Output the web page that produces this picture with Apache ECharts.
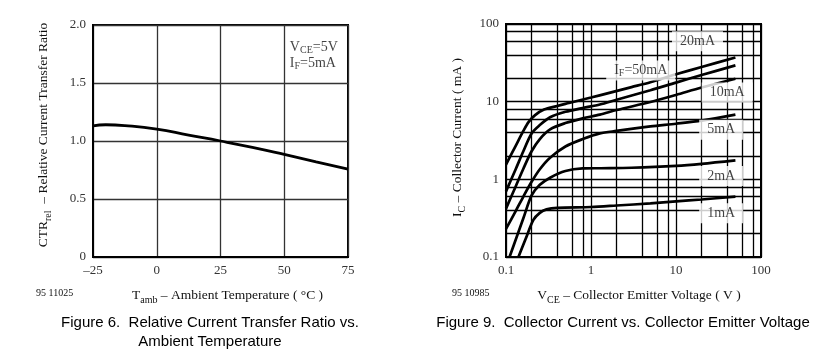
<!DOCTYPE html>
<html>
<head>
<meta charset="utf-8">
<script src="https://cdn.jsdelivr.net/npm/echarts@6/dist/echarts.min.js"></script>
<style>
html, body { margin: 0; padding: 0; background: #fff; }
#container { width: 835px; height: 353px; }
</style>
</head>
<body>
<div id="container"></div>
<script>
// Figure 6: relative CTR vs ambient temperature
var tempC = [-25, -20, -12.5, 0, 12.5, 25, 37.5, 50, 62.5, 75];
var ctrRel = [1.131, 1.14, 1.133, 1.103, 1.051, 1.0, 0.945, 0.884, 0.82, 0.757];

// Figure 9: collector current (mA) vs collector emitter voltage (V), one list per IF
var ic50mA = [[0.1, 1.55], [0.13, 2.7], [0.16, 4.2], [0.185, 5.5], [0.22, 6.7], [0.28, 7.9], [0.4, 8.8], [0.55, 9.6], [1, 11.3], [1.6, 12.9], [3, 15.4], [5, 17.8], [10, 22.5], [20, 28], [50, 37]];
var ic20mA = [[0.1, 0.7], [0.13, 1.35], [0.16, 2.3], [0.2, 3.9], [0.25, 5.0], [0.33, 6.3], [0.5, 7.4], [0.8, 8.3], [1.27, 9.2], [2, 10.6], [5, 14], [10, 17.6], [20, 22], [50, 29.3]];
var ic10mA = [[0.1, 0.42], [0.13, 0.81], [0.16, 1.37], [0.2, 2.3], [0.25, 3.3], [0.33, 4.4], [0.5, 5.3], [0.8, 6.1], [1.27, 6.8], [2, 7.8], [5, 9.9], [10, 12.2], [20, 15.2], [50, 19.7]];
var ic5mA = [[0.1, 0.23], [0.13, 0.39], [0.16, 0.6], [0.2, 0.93], [0.25, 1.35], [0.33, 1.9], [0.5, 2.65], [0.8, 3.3], [1.27, 3.9], [2, 4.2], [5, 4.8], [10, 5.2], [20, 5.7], [50, 6.8]];
var ic2mA = [[0.11, 0.1], [0.13, 0.167], [0.16, 0.315], [0.2, 0.62], [0.25, 0.85], [0.33, 1.05], [0.5, 1.28], [0.8, 1.38], [1.3, 1.39], [3, 1.41], [10, 1.49], [20, 1.58], [50, 1.75]];
var ic1mA = [[0.14, 0.1], [0.17, 0.17], [0.21, 0.3], [0.25, 0.37], [0.3, 0.41], [0.4, 0.43], [1, 0.44], [2, 0.46], [5, 0.49], [10, 0.52], [20, 0.55], [50, 0.6]];
var curveNames = ['50mA', '20mA', '10mA', '5mA', '2mA', '1mA'];

// curve labels, anchored in data space [Vce, Ic]
var labelText = ['{a|20mA}', '{a|I}{s|F}{a|=50mA}', '{a|10mA}', '{a|5mA}', '{a|2mA}', '{a|1mA}'];
var labelPos = [[17.9, 60], [3.85, 25.2], [40, 13.1], [34, 4.36], [34, 1.1], [34, 0.367]];

// log grid lines on figure 9
var logGridVals = [0.1, 0.2, 0.4, 0.6, 0.8, 1, 2, 4, 6, 8, 10, 20, 40, 60, 80, 100];

var serif = 'Liberation Serif';
var subRich = {
  a: { fontFamily: serif, fontSize: 13.5, color: '#111', lineHeight: 20 },
  s: { fontFamily: serif, fontSize: 10, color: '#111', lineHeight: 10, verticalAlign: 'bottom' }
};

var chartDom = document.getElementById('container');
var myChart = echarts.init(chartDom);

var gridMarks = logGridVals.map(function (v) { return { xAxis: v }; })
  .concat(logGridVals.map(function (v) { return { yAxis: v }; }));

var curveData = [ic50mA, ic20mA, ic10mA, ic5mA, ic2mA, ic1mA];
var curveSeries = curveData.map(function (d, i) {
  return {
    name: curveNames[i],
    type: 'line',
    xAxisIndex: 1,
    yAxisIndex: 1,
    data: d,
    smooth: 0.3,
    showSymbol: false,
    z: 3,
    lineStyle: { color: '#000', width: 2.7 }
  };
});

var option = {
  animation: false,
  backgroundColor: '#fff',
  grid: [
    { left: 93, top: 25, width: 255, height: 232, show: true, borderColor: '#000', borderWidth: 2 },
    { left: 506, top: 24, width: 255, height: 233, show: true, borderColor: '#000', borderWidth: 2 }
  ],
  xAxis: [
    {
      gridIndex: 0,
      type: 'value',
      min: -25,
      max: 75,
      interval: 25,
      axisLine: { onZero: false, lineStyle: { color: '#000', width: 2 } },
      axisTick: { show: false },
      splitLine: { lineStyle: { color: '#333', width: 1.3 } },
      axisLabel: {
        margin: 7,
        fontFamily: serif,
        fontSize: 13,
        color: '#333',
        formatter: function (v) { return String(v).replace('-', '\u2013'); }
      },
      name: '{a|T}{s|amb}{a| \u2013 Ambient Temperature ( \u00b0C )}',
      nameLocation: 'middle',
      nameGap: 28,
      nameTextStyle: { rich: subRich, padding: [0, 0, 0, 14] }
    },
    {
      gridIndex: 1,
      type: 'log',
      logBase: 10,
      min: 0.1,
      max: 100,
      axisLine: { onZero: false, lineStyle: { color: '#000', width: 2 } },
      axisTick: { show: false },
      splitLine: { show: false },
      axisLabel: { margin: 7, fontFamily: serif, fontSize: 13, color: '#333' },
      name: '{a|V}{s|CE}{a| \u2013 Collector Emitter Voltage ( V )}',
      nameLocation: 'middle',
      nameGap: 28,
      nameTextStyle: { rich: subRich, padding: [0, 0, 0, 11] }
    }
  ],
  yAxis: [
    {
      gridIndex: 0,
      type: 'value',
      min: 0,
      max: 2,
      interval: 0.5,
      axisLine: { show: true, onZero: false, lineStyle: { color: '#000', width: 2 } },
      axisTick: { show: false },
      splitLine: { lineStyle: { color: '#333', width: 1.3 } },
      axisLabel: {
        margin: 7,
        fontFamily: serif,
        fontSize: 13,
        color: '#333',
        formatter: function (v) { return v === 0 ? '0' : v.toFixed(1); }
      },
      name: '{a|CTR}{s|rel}{a|  \u2013 Relative Current Transfer Ratio}',
      nameLocation: 'middle',
      nameRotate: 90,
      nameGap: 40,
      nameTextStyle: { rich: subRich, padding: [0, 0, 0, 12] }
    },
    {
      gridIndex: 1,
      type: 'log',
      logBase: 10,
      min: 0.1,
      max: 100,
      axisLine: { show: true, onZero: false, lineStyle: { color: '#000', width: 2 } },
      axisTick: { show: false },
      splitLine: { show: false },
      axisLabel: { margin: 7, fontFamily: serif, fontSize: 13, color: '#333' },
      name: '{a|I}{s|C}{a| \u2013 Collector Current ( mA )}',
      nameLocation: 'middle',
      nameRotate: 90,
      nameGap: 39,
      nameTextStyle: { rich: subRich, padding: [0, 0, 0, 6] }
    }
  ],
  series: [
    {
      name: 'CTR',
      type: 'line',
      xAxisIndex: 0,
      yAxisIndex: 0,
      data: tempC.map(function (t, i) { return [t, ctrRel[i]]; }),
      smooth: 0.5,
      showSymbol: false,
      lineStyle: { color: '#000', width: 2.8 },
      z: 3
    },
    {
      name: 'note6',
      type: 'scatter',
      xAxisIndex: 0,
      yAxisIndex: 0,
      symbolSize: 1,
      itemStyle: { color: '#fff' },
      data: [{ value: [52, 1.74], name: '{a|V}{s|CE}{a|=5V}\n{a|I}{s|F}{a|=5mA}' }],
      label: {
        show: true,
        position: 'right',
        distance: 0,
        align: 'left',
        formatter: function (p) { return p.name; },
        rich: {
          a: { fontFamily: serif, fontSize: 14, color: '#111', lineHeight: 16 },
          s: { fontFamily: serif, fontSize: 10, color: '#111', lineHeight: 10, verticalAlign: 'bottom' }
        }
      },
      z: 4
    },
    {
      name: 'grid9',
      type: 'line',
      xAxisIndex: 1,
      yAxisIndex: 1,
      data: [],
      z: 1,
      markLine: {
        silent: true,
        symbol: 'none',
        label: { show: false },
        lineStyle: { color: '#000', width: 1.3, type: 'solid' },
        data: gridMarks
      }
    }
  ].concat(curveSeries).concat([
    {
      name: 'labels9',
      type: 'scatter',
      xAxisIndex: 1,
      yAxisIndex: 1,
      symbolSize: 1,
      itemStyle: { color: '#fff' },
      z: 5,
      data: labelPos.map(function (p, i) { return { value: p, name: labelText[i] }; }),
      label: {
        show: true,
        position: 'inside',
        backgroundColor: '#fff',
        padding: [2, 8, 2, 8],
        formatter: function (p) { return p.name; },
        rich: {
          a: { fontFamily: serif, fontSize: 14, color: '#111', lineHeight: 16 },
          s: { fontFamily: serif, fontSize: 10, color: '#111', lineHeight: 10, verticalAlign: 'bottom' }
        }
      }
    }
  ]),
  graphic: [
    { type: 'text', x: 36, y: 293, style: { text: '95 11025', font: '10px "Liberation Serif"', fill: '#111', verticalAlign: 'middle' } },
    { type: 'text', x: 452, y: 293, style: { text: '95 10985', font: '10px "Liberation Serif"', fill: '#111', verticalAlign: 'middle' } },
    {
      type: 'text', x: 210, y: 313,
      style: { text: 'Figure 6.  Relative Current Transfer Ratio vs.\nAmbient Temperature', font: '15px "Liberation Sans"', fill: '#000', align: 'center', verticalAlign: 'top', lineHeight: 19 }
    },
    {
      type: 'text', x: 623, y: 313,
      style: { text: 'Figure 9.  Collector Current vs. Collector Emitter Voltage', font: '15px "Liberation Sans"', fill: '#000', align: 'center', verticalAlign: 'top', lineHeight: 19 }
    }
  ]
};

option && myChart.setOption(option);
</script>
</body>
</html>
